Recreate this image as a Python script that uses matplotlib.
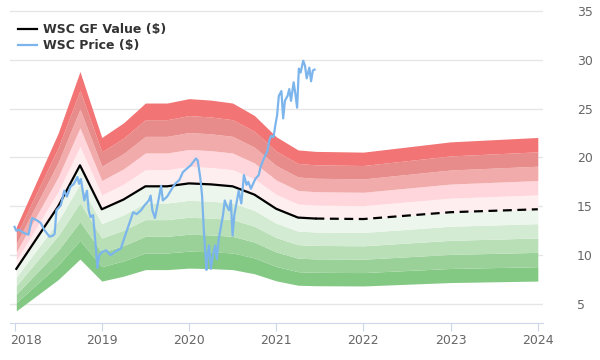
import matplotlib
matplotlib.use("Agg")
import matplotlib.pyplot as plt
import matplotlib.transforms as mtransforms
import numpy as np

# GF Value series (fractional year, value)
gf_years = [2018.02, 2018.5, 2018.75, 2019.0, 2019.25, 2019.5, 2019.75, 2020.0, 2020.25,
            2020.5, 2020.75, 2021.0, 2021.25, 2021.45, 2022.0, 2022.5, 2023.0, 2023.5, 2024.0]
gf_values = [8.6, 15.0, 19.2, 14.7, 15.7, 17.05, 17.05, 17.35, 17.25,
             17.05, 16.2, 14.75, 13.85, 13.75, 13.7, 14.05, 14.4, 14.55, 14.7]
gf_hist_end = 2021.45

# Price series (fractional year, value)
price_years = [2018.0, 2018.02, 2018.05, 2018.1, 2018.16, 2018.2, 2018.25, 2018.3, 2018.34,
               2018.4, 2018.44, 2018.46, 2018.48, 2018.53, 2018.57, 2018.6, 2018.64, 2018.68,
               2018.72, 2018.74, 2018.76, 2018.8, 2018.83, 2018.85, 2018.87, 2018.9, 2018.93,
               2018.95, 2018.97, 2019.0, 2019.05, 2019.1, 2019.16, 2019.22, 2019.26, 2019.31,
               2019.36, 2019.4, 2019.45, 2019.49, 2019.54, 2019.56, 2019.58, 2019.61, 2019.66,
               2019.68, 2019.7, 2019.75, 2019.79, 2019.84, 2019.89, 2019.93, 2019.98, 2020.02,
               2020.08, 2020.1, 2020.13, 2020.15, 2020.17, 2020.2, 2020.21, 2020.23, 2020.25,
               2020.28, 2020.3, 2020.32, 2020.34, 2020.37, 2020.39, 2020.41, 2020.43, 2020.46,
               2020.48, 2020.5, 2020.52, 2020.55, 2020.57, 2020.6, 2020.63, 2020.66, 2020.68,
               2020.71, 2020.76, 2020.8, 2020.82, 2020.85, 2020.9, 2020.92, 2020.94, 2020.97,
               2020.99, 2021.01, 2021.03, 2021.06, 2021.08, 2021.1, 2021.13, 2021.15, 2021.17,
               2021.2, 2021.22, 2021.24, 2021.26, 2021.28, 2021.31, 2021.33, 2021.35, 2021.38,
               2021.4, 2021.42, 2021.44]
price_values = [12.9, 12.5, 12.6, 12.3, 12.1, 13.8, 13.6, 13.3, 12.6,
                11.9, 12.0, 12.2, 14.6, 15.1, 16.6, 16.0, 17.0, 17.3,
                18.0, 17.3, 17.8, 15.6, 16.6, 14.6, 13.9, 14.1, 11.0,
                8.7, 10.0, 10.3, 10.5, 10.0, 10.4, 10.7, 11.8, 13.1,
                14.4, 14.2, 14.6, 15.1, 15.6, 16.1, 14.6, 13.8, 16.1,
                17.1, 15.6, 16.0, 16.6, 17.3, 17.7, 18.5, 18.9, 19.2,
                19.9, 19.7, 17.9, 16.1, 12.6, 8.5, 9.8, 11.0, 8.6,
                10.2, 11.0, 9.6, 11.6, 13.1, 14.1, 15.6, 15.1, 14.6,
                15.6, 12.0, 14.1, 15.6, 16.6, 15.3, 18.2, 17.2, 17.5,
                16.8, 17.8, 18.2, 19.0, 19.7, 20.7, 21.7, 22.2, 22.1,
                23.3, 24.3, 26.3, 26.8, 24.0, 25.8, 26.3, 27.0, 25.8,
                27.7, 26.5, 25.1, 29.1, 28.7, 29.9, 29.4, 28.1, 29.2,
                27.8, 28.9, 29.0]

band_multipliers = [0.5, 0.6, 0.7, 0.8, 0.9, 1.0, 1.1, 1.2, 1.3, 1.4, 1.5]
band_colors = ["#83c883", "#9ad199", "#b8dfb6", "#d4ebd3", "#edf6ec",
               "#ffeef0", "#ffd6db", "#f2abab", "#e88b8b", "#f27474"]

y_ticks = [5, 10, 15, 20, 25, 30, 35]
x_ticks = [2018, 2019, 2020, 2021, 2022, 2023, 2024]

fig = plt.figure(figsize=(6, 3.6), dpi=100)
ax = fig.add_axes([0.016, 0.1028, 0.8898, 0.8695])

gx = np.array(gf_years)
gv = np.array(gf_values)
for i, col in enumerate(band_colors):
    ax.fill_between(gx, gv * band_multipliers[i], gv * band_multipliers[i + 1],
                    color=col, linewidth=0, zorder=1)

hist = gx <= gf_hist_end + 1e-9
ax.plot(gx[hist], gv[hist], color="black", lw=1.6, zorder=3, label="WSC GF Value ($)")
fut = gx >= gf_hist_end - 1e-9
ax.plot(gx[fut], gv[fut], color="black", lw=1.6, ls=(0, (4, 2.5)), zorder=3)

ax.plot(price_years, price_values, color="#7cb5ec", lw=1.6, zorder=4, label="WSC Price ($)")

ax.set_xlim(2017.943, 2024.065)
ax.set_ylim(3.06, 35.1)

ax.yaxis.tick_right()
ax.set_yticks(y_ticks)
ax.set_yticklabels([str(t) for t in y_ticks])
ax.tick_params(axis="y", length=0, pad=24, labelsize=9, labelcolor="#666666")
ax.grid(axis="y", color="#e6e6e6", lw=1)
ax.set_axisbelow(True)

ax.set_xticks(x_ticks)
ax.set_xticklabels([str(t) for t in x_ticks])
ax.tick_params(axis="x", length=6, color="#ccd6eb", labelsize=9, labelcolor="#666666", pad=2)
first = ax.get_xticklabels()[0]
first.set_horizontalalignment("left")
first.set_transform(first.get_transform() +
                    mtransforms.ScaledTranslation(-4 / 100, 0, fig.dpi_scale_trans))

for s in ["top", "left", "right"]:
    ax.spines[s].set_visible(False)
ax.spines["bottom"].set_color("#ccd6eb")

leg = ax.legend(loc="upper left", bbox_to_anchor=(0.0, 0.985), frameon=False,
                prop={"weight": "bold", "size": 9}, handlelength=1.5,
                handletextpad=0.5, labelspacing=0.2, borderaxespad=0.3)
for t in leg.get_texts():
    t.set_color("#333333")

fig.savefig("out.png", dpi=100)
